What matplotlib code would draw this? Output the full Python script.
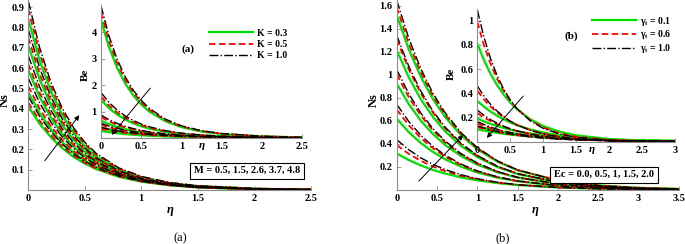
import numpy as np
import matplotlib
matplotlib.use('Agg')
import matplotlib.pyplot as plt
from matplotlib.patches import FancyArrowPatch

plt.rcParams['font.family'] = 'Liberation Serif'
plt.rcParams['font.weight'] = 'bold'
plt.rcParams['mathtext.fontset'] = 'custom'
plt.rcParams['mathtext.rm'] = 'Liberation Serif'
plt.rcParams['mathtext.it'] = 'Liberation Serif:italic'
plt.rcParams['mathtext.bf'] = 'Liberation Serif:bold'

# eta grids (read points)
eta_a = [0, .1, .2, .3, .4, .5, .6, .8, 1.0, 1.25, 1.5, 2.0, 2.5]
eta_b = [0, .15, .3, .45, .6, .8, 1.0, 1.25, 1.5, 2.0, 2.5, 3.0, 3.5]
eta_bi = [0, .1, .2, .3, .4, .5, .6, .8, 1.0, 1.25, 1.5, 2.0, 2.5, 3.0]

# values in thousandths, one row per M (a) or Ec (b)
# (a) Ns, K = 0.3 / 0.5 / 1.0
ns_a_k03 = [[410, 326, 259, 206, 163, 130, 103, 65, 41, 23, 13, 4, 1],
            [480, 378, 297, 234, 184, 145, 114, 71, 44, 24, 13, 4, 1],
            [590, 458, 355, 276, 214, 167, 130, 79, 48, 26, 14, 4, 1],
            [710, 544, 417, 320, 247, 190, 147, 88, 53, 29, 16, 5, 2],
            [840, 637, 484, 369, 282, 216, 166, 99, 60, 33, 19, 6, 2]]
ns_a_k05 = [[430, 341, 270, 214, 169, 134, 106, 67, 42, 23, 13, 4, 1],
            [510, 400, 313, 245, 192, 151, 118, 73, 45, 25, 14, 4, 1],
            [620, 479, 371, 287, 223, 173, 134, 81, 49, 27, 14, 4, 1],
            [750, 572, 438, 335, 257, 198, 153, 91, 55, 30, 16, 5, 2],
            [890, 672, 509, 387, 296, 227, 174, 105, 64, 35, 20, 7, 3]]
ns_a_k10 = [[460, 363, 286, 226, 178, 141, 111, 69, 43, 24, 13, 4, 1],
            [550, 429, 334, 261, 204, 159, 124, 76, 46, 25, 14, 4, 1],
            [660, 508, 392, 302, 233, 180, 140, 84, 51, 27, 15, 5, 2],
            [790, 601, 458, 350, 268, 206, 158, 95, 57, 31, 17, 6, 2],
            [930, 701, 530, 403, 307, 235, 181, 109, 67, 37, 21, 8, 3]]
# (a) inset Be
be_a_k03 = [[270, 222, 183, 152, 126, 106, 89, 63, 46, 31, 22, 11, 6],
            [390, 316, 257, 210, 172, 142, 117, 81, 58, 38, 26, 12, 6],
            [660, 526, 421, 338, 273, 222, 181, 122, 84, 54, 36, 16, 8],
            [1440, 1129, 889, 703, 559, 447, 359, 235, 157, 98, 63, 27, 13],
            [4450, 3430, 2656, 2066, 1616, 1270, 1004, 638, 414, 249, 154, 64, 28]]
be_a_k05 = [[350, 288, 237, 197, 164, 137, 115, 82, 59, 40, 28, 14, 7],
            [500, 405, 329, 269, 220, 182, 150, 104, 74, 49, 33, 16, 8],
            [790, 629, 504, 405, 327, 266, 217, 146, 101, 65, 43, 19, 9],
            [1570, 1231, 969, 767, 609, 487, 391, 257, 172, 107, 68, 30, 14],
            [4750, 3661, 2835, 2206, 1725, 1356, 1072, 681, 442, 266, 165, 68, 30]]
be_a_k10 = [[410, 337, 278, 231, 192, 160, 135, 96, 70, 47, 33, 17, 9],
            [560, 453, 368, 301, 247, 203, 168, 117, 83, 55, 37, 18, 9],
            [870, 693, 555, 446, 360, 292, 239, 161, 111, 71, 47, 21, 10],
            [1720, 1348, 1061, 840, 668, 534, 429, 281, 188, 117, 75, 33, 15],
            [5000, 3854, 2984, 2322, 1815, 1427, 1128, 717, 466, 280, 173, 72, 31]]
# (b) Ns, gamma_t = 0.1 / 0.6 / 1.0
ns_b_g01 = [[317, 260, 213, 174, 143, 109, 84, 60, 43, 22, 11, 6, 3],
            [620, 502, 407, 330, 267, 202, 152, 107, 76, 37, 19, 9, 5],
            [925, 746, 601, 485, 391, 294, 220, 154, 108, 52, 26, 12, 6],
            [1215, 978, 787, 634, 510, 382, 286, 199, 139, 67, 33, 16, 8],
            [1520, 1222, 982, 789, 634, 474, 354, 246, 171, 83, 40, 19, 9]]
ns_b_g06 = [[390, 314, 253, 204, 164, 123, 93, 65, 45, 22, 11, 5, 3],
            [700, 562, 451, 362, 290, 216, 161, 112, 77, 37, 18, 9, 4],
            [1006, 806, 646, 517, 414, 308, 229, 158, 109, 52, 25, 12, 6],
            [1310, 1048, 839, 671, 537, 399, 296, 204, 141, 67, 32, 15, 7],
            [1590, 1273, 1020, 817, 654, 486, 362, 250, 173, 82, 39, 19, 9]]
ns_b_g10 = [[438, 350, 279, 223, 178, 132, 98, 67, 46, 22, 10, 5, 2],
            [745, 595, 475, 379, 303, 224, 166, 114, 79, 37, 18, 8, 4],
            [1047, 836, 668, 533, 426, 315, 234, 161, 110, 52, 25, 12, 5],
            [1345, 1074, 858, 685, 547, 405, 300, 206, 142, 67, 32, 15, 7],
            [1650, 1318, 1052, 840, 671, 497, 368, 253, 174, 82, 39, 18, 9]]
# (b) inset Be
be_b_g01 = [[100, 90, 80, 72, 64, 58, 52, 42, 33, 25, 19, 11, 6, 4],
            [125, 111, 99, 88, 78, 70, 62, 49, 39, 29, 22, 12, 7, 4],
            [190, 167, 146, 128, 112, 98, 86, 66, 51, 37, 26, 14, 7, 4],
            [335, 288, 248, 213, 183, 157, 135, 100, 74, 51, 35, 16, 8, 4],
            [810, 674, 560, 466, 388, 322, 268, 185, 128, 81, 51, 20, 8, 3]]
be_b_g06 = [[120, 105, 91, 79, 69, 60, 53, 40, 30, 21, 15, 8, 4, 2],
            [150, 130, 112, 97, 84, 73, 63, 47, 35, 24, 17, 8, 4, 2],
            [235, 199, 169, 143, 122, 103, 88, 63, 45, 30, 20, 9, 4, 2],
            [420, 349, 290, 240, 200, 166, 138, 95, 65, 41, 26, 10, 4, 2],
            [990, 798, 644, 519, 419, 338, 272, 177, 115, 67, 39, 13, 5, 2]]
be_b_g10 = [[130, 112, 96, 83, 71, 61, 53, 39, 29, 20, 14, 6, 3, 1],
            [165, 141, 120, 102, 87, 74, 63, 46, 33, 22, 15, 7, 3, 1],
            [260, 217, 181, 152, 127, 106, 88, 62, 43, 27, 17, 7, 3, 1],
            [460, 377, 308, 252, 207, 169, 139, 93, 62, 38, 23, 8, 3, 1],
            [1090, 866, 688, 547, 434, 345, 274, 173, 109, 61, 35, 11, 3, 1]]

k_labels = ['K = 0.3', 'K = 0.5', 'K = 1.0']
g_labels = [r'$\mathbf{\gamma_t}$ = 0.1', r'$\mathbf{\gamma_t}$ = 0.6', r'$\mathbf{\gamma_t}$ = 1.0']

W, H = 685, 244
fig = plt.figure(figsize=(W / 100, H / 100), dpi=100)


def rect(x0, y0, x1, y1):
    # pixel box (top-left origin) -> figure fraction
    return [x0 / W, 1 - y1 / H, (x1 - x0) / W, (y1 - y0) / H]


sty = [dict(color='#00e000', ls='-', lw=1.6),
       dict(color='red', ls=(0, (3.5, 2)), lw=1.3),
       dict(color='black', ls='-.', lw=1.0)]


def style(ax, xlim, ylim, xt, yt, fs=7.5):
    ax.set_xlim(xlim)
    ax.set_ylim(ylim)
    ax.set_xticks(xt)
    ax.set_xticklabels(['%g' % v for v in xt])
    ax.set_yticks(yt)
    ax.set_yticklabels(['%g' % v for v in yt])
    for s in ['top', 'right']:
        ax.spines[s].set_visible(False)
    for s in ['left', 'bottom']:
        ax.spines[s].set_color('0.55')
        ax.spines[s].set_linewidth(0.8)
    ax.tick_params(direction='in', length=3, width=0.6, color='0.55', labelsize=fs, pad=3)


def draw(ax, eta, sets):
    lines = []
    for j, rows in enumerate(sets):
        for r in rows:
            ln, = ax.plot(eta, np.array(r) / 1000, **sty[j])
        lines.append(ln)
    return lines


ax1 = fig.add_axes(rect(28.3, 0, 310.7, 190))
draw(ax1, eta_a, [ns_a_k03, ns_a_k05, ns_a_k10])
style(ax1, (0, 2.5), (0, 0.935), [0, 0.5, 1, 1.5, 2, 2.5], [0.1, 0.2, 0.3, 0.4, 0.5, 0.6, 0.7, 0.8, 0.9])

ax2 = fig.add_axes(rect(101, 4.5, 302, 138.1))
h2 = draw(ax2, eta_a, [be_a_k03, be_a_k05, be_a_k10])
style(ax2, (0, 2.5), (0, 5.05), [0, 0.5, 1, 1.5, 2, 2.5], [1, 2, 3, 4])

ax3 = fig.add_axes(rect(396.7, 0, 679, 190))
draw(ax3, eta_b, [ns_b_g01, ns_b_g06, ns_b_g10])
style(ax3, (0, 3.5), (0, 1.652), [0, 0.5, 1, 1.5, 2, 2.5, 3, 3.5],
      [0.2, 0.4, 0.6, 0.8, 1.0, 1.2, 1.4, 1.6])

ax4 = fig.add_axes(rect(477.3, 8.7, 675, 141.5))
h4 = draw(ax4, eta_bi, [be_b_g01, be_b_g06, be_b_g10])
style(ax4, (0, 3), (0, 1.1), [0, 0.5, 1, 1.5, 2, 2.5, 3], [0.2, 0.4, 0.6, 0.8, 1.0])

fig.legend(h2, k_labels, loc='upper left', bbox_to_anchor=(209 / W, 1 - 28.5 / H),
           frameon=False, fontsize=7, handlelength=4.5, handletextpad=0.4,
           labelspacing=0.25, borderpad=0, borderaxespad=0)
fig.legend(h4, g_labels, loc='upper left', bbox_to_anchor=(592 / W, 1 - 14.5 / H),
           frameon=False, fontsize=7, handlelength=4.5, handletextpad=0.4,
           labelspacing=0.1, borderpad=0, borderaxespad=0)


def ftext(x, y, s, **kw):
    fig.text(x / W, 1 - y / H, s, ha='center', va='center', **kw)


ftext(187.5, 49, '(a)', fontsize=8)
ftext(571, 36, '(b)', fontsize=8)
ftext(5, 100, 'Ns', fontsize=9, rotation=90)
ftext(374, 100, 'Ns', fontsize=9, rotation=90)
ftext(85, 75, 'Be', fontsize=8, rotation=90)
ftext(451, 74, 'Be', fontsize=8, rotation=90)
ftext(170, 211, r'$\eta$', fontsize=9)
ftext(535, 212, r'$\eta$', fontsize=9)
ftext(201.7, 147, r'$\eta$', fontsize=8)
ftext(591.7, 150, r'$\eta$', fontsize=8)
ftext(180, 238.5, '(a)', fontsize=9, fontweight='normal')
ftext(503, 238.5, '(b)', fontsize=9, fontweight='normal')
ftext(247, 170.7, 'M = 0.5, 1.5, 2.6, 3.7, 4.8', fontsize=7.5,
      bbox=dict(boxstyle='square,pad=0.35', fc='white', ec='black', lw=0.8))
ftext(604, 174.7, 'Ec = 0.0, 0.5, 1, 1.5, 2.0', fontsize=7.5,
      bbox=dict(boxstyle='square,pad=0.35', fc='white', ec='black', lw=0.8))

# trend arrows (pixel positions)
for (x0, y0, x1, y1) in [(43, 163, 81, 113), (152, 86, 110, 137), (417, 183, 465, 133), (525, 94, 485, 140)]:
    fig.add_artist(FancyArrowPatch((x0 / W, 1 - y0 / H), (x1 / W, 1 - y1 / H), transform=fig.transFigure,
                                   arrowstyle='-|>', mutation_scale=7, lw=0.7, color='k', zorder=10))

fig.savefig('out.png', dpi=100)
